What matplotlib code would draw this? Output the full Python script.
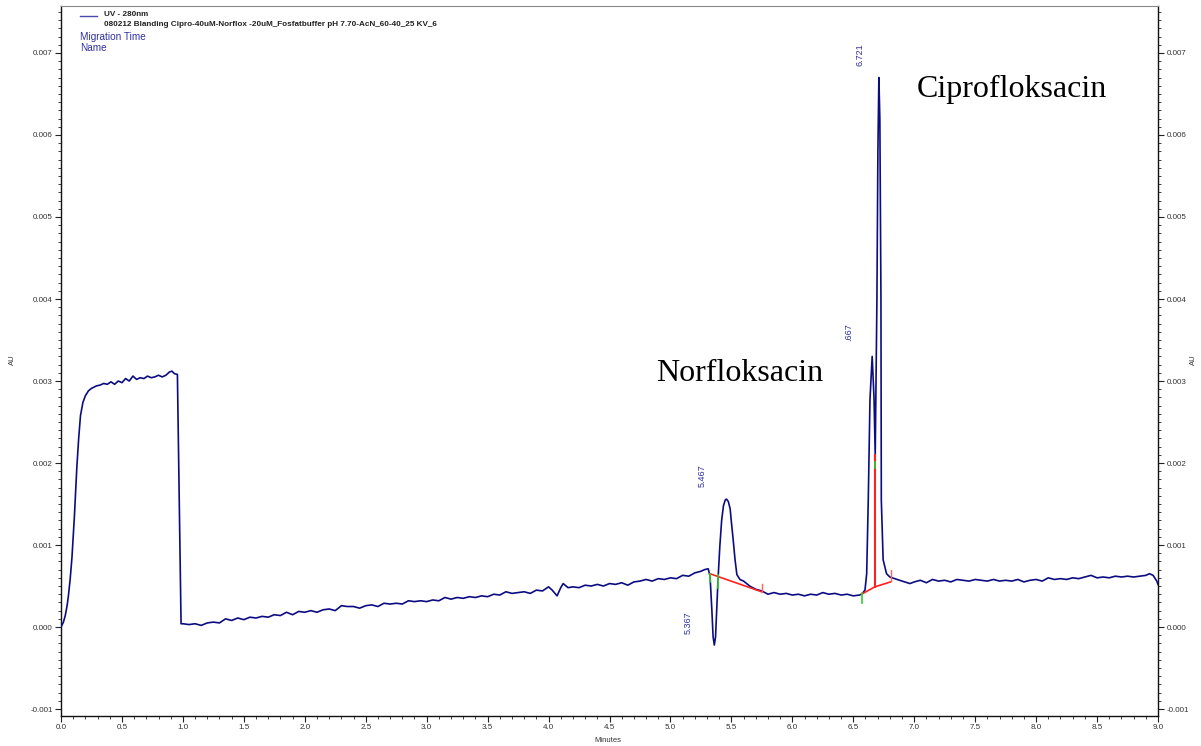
import matplotlib
matplotlib.use("Agg")
import matplotlib.pyplot as plt
from matplotlib.ticker import MultipleLocator, FormatStrFormatter
from matplotlib.lines import Line2D

# electropherogram trace, AU in units of 1e-3
time_min = [
    0.00, 0.02, 0.035, 0.05, 0.06, 0.075, 0.09, 0.11, 0.13, 0.145, 0.16, 0.18, 0.20, 0.225,
    0.25, 0.29, 0.32, 0.35, 0.38, 0.41, 0.44, 0.47, 0.50, 0.53, 0.56, 0.59, 0.62, 0.65,
    0.68, 0.71, 0.74, 0.77, 0.80, 0.83, 0.86, 0.89, 0.91, 0.93, 0.955, 0.985,
    1.00, 1.05, 1.10, 1.15, 1.20, 1.25, 1.30, 1.35, 1.40, 1.45, 1.50, 1.55, 1.60, 1.65,
    1.70, 1.75, 1.80, 1.85, 1.90, 1.95, 2.00, 2.05, 2.10, 2.15, 2.20, 2.25, 2.30, 2.35,
    2.40, 2.45, 2.50, 2.55, 2.60, 2.65, 2.70, 2.75, 2.80, 2.85, 2.90, 2.95, 3.00, 3.05,
    3.10, 3.15, 3.20, 3.25, 3.30, 3.35, 3.40, 3.45, 3.50, 3.55, 3.60, 3.65, 3.70, 3.75,
    3.80, 3.85, 3.90, 3.95, 4.00, 4.03, 4.07, 4.10, 4.12, 4.16, 4.20, 4.25, 4.30, 4.35,
    4.40, 4.45, 4.50, 4.55, 4.60, 4.65, 4.70, 4.75, 4.80, 4.85, 4.90, 4.95, 5.00, 5.05,
    5.10, 5.15, 5.20, 5.25, 5.28, 5.31,
    5.325, 5.34, 5.35, 5.36, 5.37, 5.38, 5.39, 5.405, 5.42, 5.435, 5.45, 5.46, 5.475,
    5.49, 5.50, 5.515, 5.53, 5.545, 5.57, 5.60, 5.65, 5.70, 5.75, 5.80, 5.85, 5.90, 5.95,
    6.00, 6.05, 6.10, 6.15, 6.20, 6.25, 6.30, 6.35, 6.40, 6.45, 6.50, 6.55, 6.57, 6.585,
    6.596, 6.61, 6.623, 6.637, 6.655, 6.67, 6.68, 6.694, 6.702, 6.71, 6.718, 6.727, 6.73,
    6.745, 6.773, 6.80, 6.88, 6.965,
    7.00, 7.05, 7.10, 7.15, 7.20, 7.25, 7.30, 7.35, 7.40, 7.45, 7.50, 7.55, 7.60, 7.65,
    7.70, 7.75, 7.80, 7.85, 7.90, 7.95, 8.00, 8.05, 8.10, 8.15, 8.20, 8.25, 8.30, 8.35,
    8.40, 8.45, 8.50, 8.55, 8.60, 8.65, 8.70, 8.75, 8.80, 8.85, 8.90, 8.93, 8.96, 8.99, 9.00,
]
au_milli = [
    0.00, 0.06, 0.14, 0.26, 0.37, 0.58, 0.85, 1.35, 1.95, 2.30, 2.58, 2.74, 2.82, 2.88,
    2.91, 2.94, 2.95, 2.97, 2.96, 2.99, 2.96, 3.00, 2.98, 3.03, 3.00, 3.06, 3.02, 3.04,
    3.03, 3.06, 3.04, 3.05, 3.07, 3.05, 3.07, 3.11, 3.12, 3.09, 3.08, 0.04,
    0.04, 0.03, 0.04, 0.02, 0.05, 0.06, 0.05, 0.10, 0.08, 0.11, 0.09, 0.12, 0.11, 0.13,
    0.12, 0.15, 0.14, 0.18, 0.15, 0.19, 0.18, 0.20, 0.18, 0.21, 0.22, 0.20, 0.26, 0.25,
    0.25, 0.23, 0.26, 0.27, 0.25, 0.29, 0.28, 0.29, 0.28, 0.32, 0.31, 0.32, 0.31, 0.33,
    0.32, 0.36, 0.34, 0.36, 0.35, 0.37, 0.36, 0.38, 0.37, 0.40, 0.39, 0.43, 0.41, 0.42,
    0.43, 0.41, 0.45, 0.44, 0.49, 0.45, 0.38, 0.48, 0.53, 0.48, 0.49, 0.48, 0.51, 0.50,
    0.52, 0.50, 0.53, 0.52, 0.54, 0.51, 0.55, 0.56, 0.58, 0.56, 0.59, 0.58, 0.60, 0.59,
    0.63, 0.62, 0.66, 0.68, 0.70, 0.71,
    0.62, 0.20, -0.12, -0.22, -0.12, 0.22, 0.57, 0.98, 1.30, 1.48, 1.55, 1.56, 1.53,
    1.44, 1.28, 1.06, 0.82, 0.64, 0.58, 0.56, 0.50, 0.46, 0.44, 0.40, 0.42, 0.40, 0.41,
    0.39, 0.40, 0.38, 0.40, 0.39, 0.42, 0.40, 0.41, 0.39, 0.40, 0.38, 0.39, 0.40, 0.43,
    0.45, 0.65, 1.55, 2.77, 3.30, 2.80, 2.10, 4.00, 5.80, 6.70, 6.20, 4.00, 1.55,
    0.82, 0.65, 0.61, 0.57, 0.53,
    0.55, 0.57, 0.54, 0.58, 0.56, 0.57, 0.55, 0.58, 0.57, 0.56, 0.58, 0.57, 0.56, 0.58,
    0.56, 0.57, 0.56, 0.58, 0.55, 0.57, 0.58, 0.56, 0.60, 0.58, 0.59, 0.58, 0.60, 0.59,
    0.61, 0.63, 0.60, 0.61, 0.60, 0.62, 0.61, 0.62, 0.61, 0.62, 0.63, 0.65, 0.63, 0.56, 0.52,
]
au = [v / 1000 for v in au_milli]

# integration baselines (red) and their start/end marks
norflox_base_t = [5.324, 5.748]
norflox_base_au = [0.00065, 0.00043]
cipro_base_t = [6.568, 6.677, 6.806]
cipro_base_au = [0.00040, 0.00049, 0.00055]
cipro_drop_t = [6.677, 6.677]
cipro_drop_au = [0.00049, 0.00210]
red_ticks = [(5.748, 0.00043, 0.00053), (6.806, 0.00056, 0.00070)]
green_ticks = [(5.324, 0.00055, 0.00065), (5.392, 0.00048, 0.00063),
               (6.568, 0.00029, 0.00041), (6.677, 0.00194, 0.00201)]

# peak labels: text, time, AU
peak_labels = [("5.467", 5.258, 0.00184), ("5.367", 5.146, 0.00005),
               (".667", 6.465, 0.00360), ("6.721", 6.555, 0.00698)]
compound_labels = [("Norfloksacin", 4.881, 0.00300), ("Ciprofloksacin", 7.022, 0.00646)]

navy = "#0c0c82"
label_blue = "#3030a0"
tick_font = "Liberation Sans"

fig = plt.figure(figsize=(12.01, 7.46), dpi=100)
ax = fig.add_axes([61 / 1201, 30 / 746, 1097 / 1201, 710 / 746])

ax.plot(time_min, au, color=navy, lw=1.2, zorder=3)
ax.plot(norflox_base_t, norflox_base_au, color="#ff2020", lw=1.2, zorder=4)
ax.plot(cipro_base_t, cipro_base_au, color="#ff2020", lw=1.2, zorder=4)
ax.plot(cipro_drop_t, cipro_drop_au, color="#ff2020", lw=1.5, zorder=4)
for t, y0, y1 in red_ticks:
    ax.plot([t, t], [y0, y1], color="#ff6060", lw=1.0, zorder=4)
for t, y0, y1 in green_ticks:
    ax.plot([t, t], [y0, y1], color="#30d030", lw=1.2, zorder=5)

for txt, t, y in peak_labels:
    ax.text(t, y, txt, rotation=90, ha="center", va="center", color=label_blue,
            fontsize=6.5, family=tick_font)
for txt, t, y in compound_labels:
    ax.text(t, y, txt, ha="left", va="baseline", fontsize=23, family="Liberation Serif",
            color="black")

ax.set_xlim(0, 9.0)
ax.set_ylim(-0.001085, 0.007573)
ax.xaxis.set_major_locator(MultipleLocator(0.5))
ax.xaxis.set_minor_locator(MultipleLocator(0.1))
ax.xaxis.set_major_formatter(FormatStrFormatter("%.1f"))
ax.yaxis.set_major_locator(MultipleLocator(0.001))
ax.yaxis.set_minor_locator(MultipleLocator(0.0001))
ax.yaxis.set_major_formatter(FormatStrFormatter("%.3f"))
ax.yaxis.set_ticks_position("both")
ax.tick_params(which="both", direction="out", colors="#222222", labelcolor="#333333",
               labelsize=5.8, top=False, labelright=True)
ax.tick_params(which="major", length=4, width=0.8, pad=2)
ax.tick_params(which="minor", length=2.5, width=0.6)
for lab in ax.get_xticklabels() + ax.get_yticklabels():
    lab.set_family(tick_font)
for lab in ax.yaxis.get_ticklabels(which="major"):
    lab.set_family(tick_font)

for side in ["left", "bottom", "right"]:
    ax.spines[side].set_color("#111111")
    ax.spines[side].set_linewidth(1.0)
ax.spines["top"].set_color("#888888")
ax.spines["top"].set_linewidth(0.8)

fig.text(608 / 1201, 1 - 741 / 746, "Minutes", ha="center", va="center", fontsize=5.5,
         family=tick_font, color="#333333")
fig.text(12 / 1201, 1 - 360 / 746, "AU", rotation=90, ha="center", va="center",
         fontsize=5.5, family=tick_font, color="#333333")
fig.text(1193 / 1201, 1 - 360 / 746, "AU", rotation=90, ha="center", va="center",
         fontsize=5.5, family=tick_font, color="#333333")

# legend block
fig.add_artist(Line2D([80 / 1201, 97 / 1201], [1 - 16 / 746, 1 - 16 / 746],
                      color="#4848b0", lw=1.0))
fig.text(104 / 1201, 1 - 15 / 746, "UV - 280nm", ha="left", va="center", fontsize=5.9,
         family=tick_font, weight="bold", color="#222222")
fig.text(104 / 1201, 1 - 25 / 746,
         "080212 Blanding Cipro-40uM-Norflox -20uM_Fosfatbuffer pH 7.70-AcN_60-40_25 KV_6",
         ha="left", va="center", fontsize=5.9, family=tick_font, weight="bold", color="#222222")
fig.text(80 / 1201, 1 - 37 / 746, "Migration Time", ha="left", va="center", fontsize=7.2,
         family=tick_font, color=label_blue)
fig.text(80 / 1201, 1 - 48 / 746, "Name", ha="left", va="center", fontsize=7.2,
         family=tick_font, color=label_blue)

fig.savefig("out.png", dpi=100)
